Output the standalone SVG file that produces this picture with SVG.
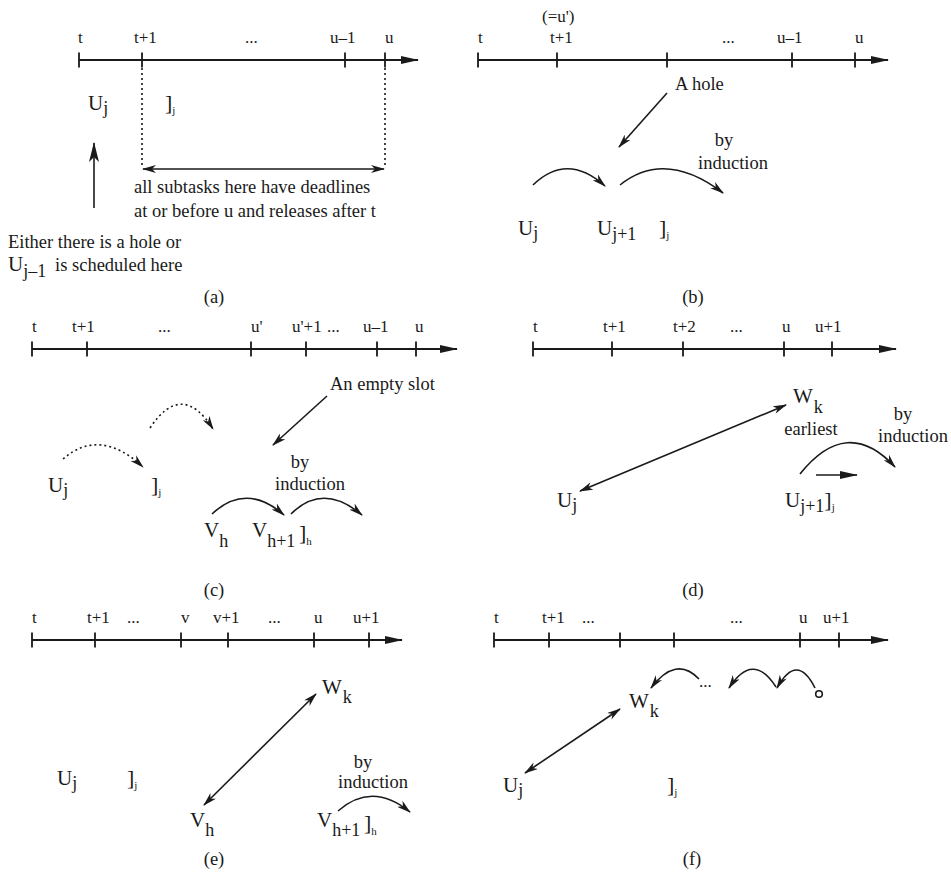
<svg xmlns="http://www.w3.org/2000/svg" width="951" height="873" viewBox="0 0 951 873">
<defs>
<marker id="axhead" viewBox="0 0 18 8" markerWidth="18" markerHeight="8" refX="17" refY="4" markerUnits="userSpaceOnUse" orient="auto"><path d="M0,0 L18,4 L0,8 Z" fill="#1a1a1a"/></marker>
<marker id="barb" viewBox="0 0 14 8" markerWidth="14" markerHeight="8" refX="13" refY="4" markerUnits="userSpaceOnUse" orient="auto-start-reverse"><path d="M0,0 L14,4 L0,8 L4,4 Z" fill="#1a1a1a"/></marker>
<marker id="barbL" viewBox="0 0 20 10" markerWidth="20" markerHeight="10" refX="19" refY="5" markerUnits="userSpaceOnUse" orient="auto"><path d="M0,0 L20,5 L0,10 L5,5 Z" fill="#1a1a1a"/></marker>
</defs>
<style>
text{font-family:"Liberation Serif","Times New Roman",serif;fill:#1a1a1a}
.lb{font-size:17px}
.tx{font-size:18.5px}
.big{font-size:21px}
.sub{font-size:18px}
.br{font-size:22px}
.tiny{font-size:11px}
.mid{text-anchor:middle}
.axis{stroke:#1a1a1a;stroke-width:2.2;fill:none}
.tick{stroke:#1a1a1a;stroke-width:1.8}
.ln{stroke:#1a1a1a;stroke-width:1.6;fill:none}
.dot{stroke-dasharray:2 3}
</style>

<!-- Panel (a) -->
<g id="panel-a">
  <g id="a-axis">
    <line class="axis" x1="79" y1="60" x2="418" y2="60" marker-end="url(#axhead)"/>
    <path class="tick" d="M79,52.5V67.5M142,52.5V67.5M345,52.5V67.5M385,52.5V67.5"/>
    <text class="lb" x="78" y="43">t</text>
    <text class="lb" x="134" y="43">t+1</text>
    <text class="lb" x="245" y="43">...</text>
    <text class="lb" x="330" y="43">u–1</text>
    <text class="lb" x="385" y="43">u</text>
  </g>
  <g id="a-Uj"><text class="big" x="88" y="110">U<tspan class="sub" dy="4">j</tspan></text></g>
  <g id="a-end"><text class="br" x="165" y="110">]<tspan class="tiny" dy="4">j</tspan></text></g>
  <g id="a-note1"><text class="tx" x="134" y="193">all subtasks here have deadlines</text><text class="tx" x="134" y="217">at or before u and releases after t</text></g>
  <g id="a-note2"><text class="tx" x="8" y="248">Either there is a hole or</text><text class="big" x="8" y="271">U<tspan class="sub" dy="6">j–1</tspan></text><text class="tx" x="55" y="271">is scheduled here</text></g>
  <text class="tx mid" x="214" y="303">(a)</text>
</g>

<!-- Panel (b) -->
<g id="panel-b">
  <g id="b-axis">
    <line class="axis" x1="478" y1="60" x2="888" y2="60" marker-end="url(#axhead)"/>
    <path class="tick" d="M478,52.5V67.5M557,52.5V67.5M667,52.5V67.5M792,52.5V67.5M855,52.5V67.5"/>
    <text class="lb" x="542" y="22">(=u')</text>
    <text class="lb" x="478" y="43">t</text>
    <text class="lb" x="550" y="43">t+1</text>
    <text class="lb" x="722" y="43">...</text>
    <text class="lb" x="777" y="43">u–1</text>
    <text class="lb" x="855" y="43">u</text>
  </g>
  <g id="b-hole"><text class="tx" x="675" y="90">A hole</text></g>
  <g id="b-ind"><text class="tx mid" x="724" y="146">by</text><text class="tx mid" x="733" y="169">induction</text></g>
  <g id="b-Uj"><text class="big" x="518" y="235">U<tspan class="sub" dy="4">j</tspan></text></g>
  <g id="b-Uj1"><text class="big" x="597" y="235">U<tspan class="sub" dy="5">j+1</tspan></text></g>
  <g id="b-end"><text class="br" x="659" y="235">]<tspan class="tiny" dy="4">j</tspan></text></g>
  <text class="tx mid" x="693" y="303">(b)</text>
</g>

<!-- Panel (c) -->
<g id="panel-c">
  <g id="c-axis">
    <line class="axis" x1="32" y1="349" x2="457" y2="349" marker-end="url(#axhead)"/>
    <path class="tick" d="M32,341.5V356.5M87,341.5V356.5M251,341.5V356.5M306,341.5V356.5M377,341.5V356.5M416,341.5V356.5"/>
    <text class="lb" x="32" y="332">t</text>
    <text class="lb" x="72" y="332">t+1</text>
    <text class="lb" x="158" y="332">...</text>
    <text class="lb" x="251" y="332">u'</text>
    <text class="lb" x="292" y="332">u'+1</text>
    <text class="lb" x="327" y="332">...</text>
    <text class="lb" x="363" y="332">u–1</text>
    <text class="lb" x="415" y="332">u</text>
  </g>
  <g id="c-slot"><text class="tx" x="330" y="390">An empty slot</text></g>
  <g id="c-Uj"><text class="big" x="48" y="492">U<tspan class="sub" dy="4">j</tspan></text></g>
  <g id="c-end"><text class="br" x="151" y="492">]<tspan class="tiny" dy="4">j</tspan></text></g>
  <g id="c-ind"><text class="tx mid" x="300" y="468">by</text><text class="tx mid" x="310" y="490">induction</text></g>
  <g id="c-Vh"><text class="big" x="204" y="537">V<tspan class="sub" dy="10">h</tspan></text></g>
  <g id="c-Vh1"><text class="big" x="252" y="537">V<tspan class="sub" dy="10">h+1</tspan></text></g>
  <g id="c-endh"><text class="br" x="299" y="540">]<tspan class="tiny" dy="5">h</tspan></text></g>
  <text class="tx mid" x="214" y="596">(c)</text>
</g>

<!-- Panel (d) -->
<g id="panel-d">
  <g id="d-axis">
    <line class="axis" x1="533" y1="349" x2="896" y2="349" marker-end="url(#axhead)"/>
    <path class="tick" d="M533,341.5V356.5M612,341.5V356.5M683,341.5V356.5M784,341.5V356.5M832,341.5V356.5"/>
    <text class="lb" x="533" y="332">t</text>
    <text class="lb" x="603" y="332">t+1</text>
    <text class="lb" x="673" y="332">t+2</text>
    <text class="lb" x="730" y="332">...</text>
    <text class="lb" x="782" y="332">u</text>
    <text class="lb" x="815" y="332">u+1</text>
  </g>
  <g id="d-Wk"><text class="big" x="793" y="403">W<tspan class="sub" dx="1" dy="10">k</tspan></text><text class="tx mid" x="811" y="435">earliest</text></g>
  <g id="d-ind"><text class="tx mid" x="903" y="420">by</text><text class="tx mid" x="913" y="442">induction</text></g>
  <g id="d-Uj"><text class="big" x="557" y="507">U<tspan class="sub" dy="4">j</tspan></text></g>
  <g id="d-Uj1"><text class="big" x="785" y="507">U<tspan class="sub" dy="5">j+1</tspan><tspan class="br" dy="-5">]</tspan><tspan class="tiny" dy="4">j</tspan></text></g>
  <text class="tx mid" x="693" y="596">(d)</text>
</g>

<!-- Panel (e) -->
<g id="panel-e">
  <g id="e-axis">
    <line class="axis" x1="32" y1="640" x2="402" y2="640" marker-end="url(#axhead)"/>
    <path class="tick" d="M32,632.5V647.5M95,632.5V647.5M181,632.5V647.5M228,632.5V647.5M314,632.5V647.5M369,632.5V647.5"/>
    <text class="lb" x="32" y="623">t</text>
    <text class="lb" x="87" y="623">t+1</text>
    <text class="lb" x="127" y="623">...</text>
    <text class="lb" x="181" y="623">v</text>
    <text class="lb" x="213" y="623">v+1</text>
    <text class="lb" x="268" y="623">...</text>
    <text class="lb" x="314" y="623">u</text>
    <text class="lb" x="353" y="623">u+1</text>
  </g>
  <g id="e-Wk"><text class="big" x="322" y="694">W<tspan class="sub" dx="1" dy="9">k</tspan></text></g>
  <g id="e-Uj"><text class="big" x="57" y="785">U<tspan class="sub" dy="4">j</tspan></text></g>
  <g id="e-end"><text class="br" x="127" y="785">]<tspan class="tiny" dy="4">j</tspan></text></g>
  <g id="e-ind"><text class="tx mid" x="363" y="768">by</text><text class="tx mid" x="373" y="788">induction</text></g>
  <g id="e-Vh"><text class="big" x="190" y="827">V<tspan class="sub" dy="9">h</tspan></text></g>
  <g id="e-Vh1"><text class="big" x="317" y="827">V<tspan class="sub" dy="9">h+1</tspan></text></g>
  <g id="e-endh"><text class="br" x="364" y="830">]<tspan class="tiny" dy="5">h</tspan></text></g>
  <text class="tx mid" x="214" y="865">(e)</text>
</g>

<!-- Panel (f) -->
<g id="panel-f">
  <g id="f-axis">
    <line class="axis" x1="494" y1="640" x2="888" y2="640" marker-end="url(#axhead)"/>
    <path class="tick" d="M494,632.5V647.5M549,632.5V647.5M620,632.5V647.5M674,632.5V647.5M800,632.5V647.5M839,632.5V647.5"/>
    <text class="lb" x="494" y="623">t</text>
    <text class="lb" x="542" y="623">t+1</text>
    <text class="lb" x="582" y="623">...</text>
    <text class="lb" x="730" y="623">...</text>
    <text class="lb" x="799" y="623">u</text>
    <text class="lb" x="823" y="623">u+1</text>
  </g>
  <g id="f-Wk"><text class="big" x="629" y="708">W<tspan class="sub" dx="1" dy="9">k</tspan></text></g>
  <g id="f-dots"><text class="lb" x="699" y="687">...</text></g>
  <g id="f-start"><circle cx="819" cy="694" r="3.3" fill="none" stroke="#1a1a1a" stroke-width="1.6"/></g>
  <g id="f-Uj"><text class="big" x="503" y="792">U<tspan class="sub" dy="4">j</tspan></text></g>
  <g id="f-end"><text class="br" x="667" y="792">]<tspan class="tiny" dy="4">j</tspan></text></g>
  <text class="tx mid" x="692" y="865">(f)</text>
</g>

<!-- Connectors -->
<g id="connectors">
  <!-- (a) -->
  <line class="ln dot" x1="142" y1="68" x2="142" y2="168"/>
  <line class="ln dot" x1="385" y1="68" x2="385" y2="168"/>
  <line class="ln" x1="143" y1="169" x2="384" y2="169" marker-start="url(#barb)" marker-end="url(#barb)"/>
  <line class="ln" x1="94" y1="208" x2="94" y2="143" marker-end="url(#barbL)"/>
  <!-- (b) -->
  <line class="ln" x1="667" y1="93" x2="619" y2="147" marker-end="url(#barb)"/>
  <path class="ln" d="M533,185 Q567,152 605,186" marker-end="url(#barb)"/>
  <path class="ln" d="M620,185 Q665,149 723,193" marker-end="url(#barb)"/>
  <!-- (c) -->
  <line class="ln" x1="327" y1="396" x2="273" y2="445" marker-end="url(#barb)"/>
  <path class="ln dot" d="M150,428 Q182,380 213,429" marker-end="url(#barb)"/>
  <path class="ln dot" d="M63,459 Q100,427 143,467" marker-end="url(#barb)"/>
  <path class="ln" d="M212,514 Q246,482 284,515" marker-end="url(#barb)"/>
  <path class="ln" d="M291,514 Q323,482 362,515" marker-end="url(#barb)"/>
  <!-- (d) -->
  <line class="ln" x1="786" y1="405" x2="580" y2="491" marker-start="url(#barb)" marker-end="url(#barb)"/>
  <path class="ln" d="M800,474 Q847,415 895,467" marker-end="url(#barb)"/>
  <line class="ln" x1="816" y1="475" x2="857" y2="475" marker-end="url(#axhead)"/>
  <!-- (e) -->
  <line class="ln" x1="316" y1="694" x2="204" y2="805" marker-start="url(#barb)" marker-end="url(#barb)"/>
  <path class="ln" d="M338,811 Q372,781 410,812" marker-end="url(#barb)"/>
  <!-- (f) -->
  <line class="ln" x1="620" y1="709" x2="525" y2="773" marker-start="url(#barb)" marker-end="url(#barb)"/>
  <path class="ln" d="M699,679 Q676,655 651,688" marker-end="url(#barb)"/>
  <path class="ln" d="M776,687 Q753,651 729,688" marker-end="url(#barb)"/>
  <path class="ln" d="M815,688 Q797,652 777,688" marker-end="url(#barb)"/>
</g>
</svg>
